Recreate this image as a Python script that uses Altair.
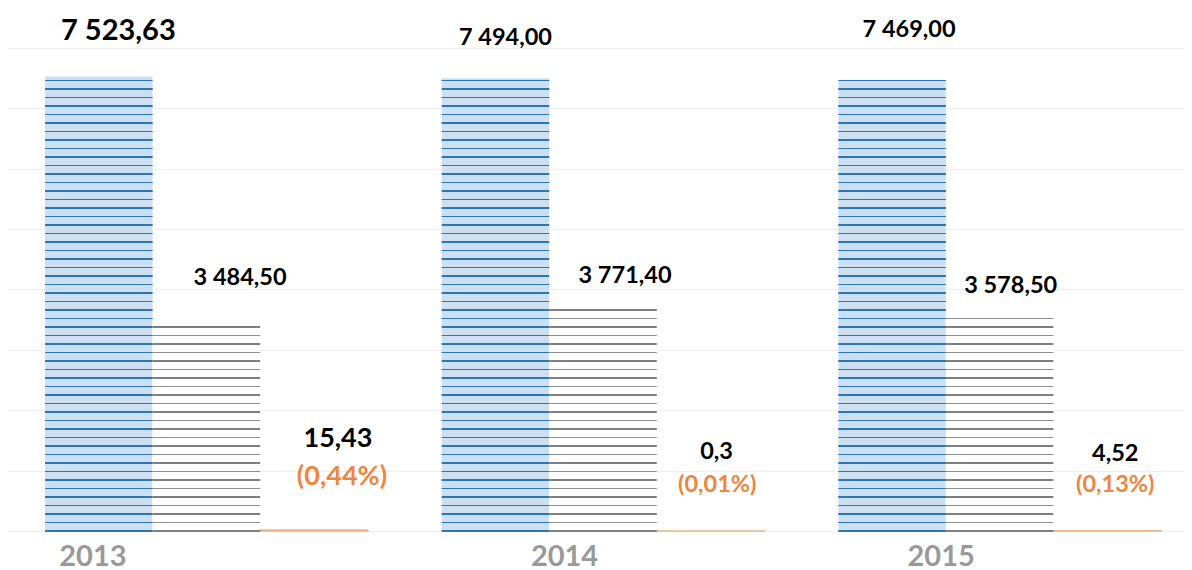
import altair as alt
import pandas as pd

# ---------------- data ----------------
years = ["2013", "2014", "2015"]
series = ["s1", "s2", "s3"]
values_s1 = [7523.63, 7494.00, 7469.00]
values_s2 = [3484.50, 3771.40, 3578.50]
values_s3 = [15.43, 0.3, 4.52]
labels_s1 = ["7 523,63", "7 494,00", "7 469,00"]
labels_s2 = ["3 484,50", "3 771,40", "3 578,50"]
labels_s3 = ["15,43", "0,3", "4,52"]
share_s3 = ["(0,44%)", "(0,01%)", "(0,13%)"]
grid_values = [0, 1000, 2000, 3000, 4000, 5000, 6000, 7000, 8000]

# ---------------- layout ----------------
W, H = 1176, 523
Y_MAX = 8659
PAD_IN, PAD_OUT, ALIGN = 0.1864, 0.0757, 0.617
step = W / (len(years) - PAD_IN + 2 * PAD_OUT)
sub_band = step * (1 - PAD_IN) / len(series)
HATCH_PX = 8.5
hatch_step = HATCH_PX * Y_MAX / H

BLUE_FILL = "#CDE0F2"
BLUE_LINE = "#2E75B6"
GRAY_LINE = "#7F7F7F"
GRAY_THIN = "#8E8E8E"
ORANGE_BAR = "#F4B183"
ORANGE_TXT = "#EE8540"
FONT = "Lato"

rows = []
for i, yr in enumerate(years):
    for s, vals, labs in (("s1", values_s1, labels_s1),
                          ("s2", values_s2, labels_s2),
                          ("s3", values_s3, labels_s3)):
        rows.append(dict(year=yr, series=s, value=vals[i], label=labs[i],
                         share=share_s3[i] if s == "s3" else ""))
bars = pd.DataFrame(rows)

hrows = []
for r in rows:
    if r["series"] == "s3":
        continue
    k = 0
    while k * hatch_step <= r["value"]:
        hrows.append(dict(year=r["year"], series=r["series"], hy=k * hatch_step,
                          thick=(k % 2 == 0)))
        k += 1
hatch = pd.DataFrame(hrows)

x_axis = alt.Axis(
    title=None, domain=False, ticks=False, tickSize=0, grid=False,
    labelAngle=0, labelFont=FONT, labelFontWeight="bold", labelFontSize=29,
    labelColor="#999999", labelBaseline="alphabetic", labelPadding=34,
    labelOffset={"condition": [
        {"test": "datum.value == '2013'", "value": -113.5},
        {"test": "datum.value == '2014'", "value": -38.5}],
        "value": -58.5},
)
y_axis = alt.Axis(
    title=None, values=grid_values, labels=False, ticks=False, domain=False,
    grid=True, gridColor="#EEEEEE", gridWidth=1,
)
X = alt.X("year:N", scale=alt.Scale(domain=years, paddingInner=PAD_IN,
                                    paddingOuter=PAD_OUT, align=ALIGN), axis=x_axis)
XO = alt.XOffset("series:N", scale=alt.Scale(domain=series, paddingInner=0, paddingOuter=0))
YS = alt.Scale(domain=[0, Y_MAX], nice=False, zero=True)


def yenc(field):
    return alt.Y(f"{field}:Q", scale=YS, axis=y_axis)


base = alt.Chart(bars)

layers = []
layers.append(base.transform_filter("datum.series == 's1'")
              .mark_bar(color=BLUE_FILL).encode(x=X, xOffset=XO, y=yenc("value")))
layers.append(base.transform_filter("datum.series == 's2'")
              .mark_bar(color="white").encode(x=X, xOffset=XO, y=yenc("value")))
layers.append(base.transform_filter("datum.series == 's3'")
              .mark_bar(color=ORANGE_BAR, stroke=ORANGE_BAR, strokeWidth=1.6)
              .encode(x=X, xOffset=XO, y=yenc("value")))

hbase = alt.Chart(hatch)
for s, thick_c, thin_c in (("s1", BLUE_LINE, BLUE_LINE), ("s2", GRAY_LINE, GRAY_THIN)):
    layers.append(hbase.transform_filter(f"datum.series == '{s}' && datum.thick")
                  .mark_tick(size=sub_band, thickness=2.2, color=thick_c, opacity=1)
                  .encode(x=X, xOffset=XO, y=yenc("hy")))
    layers.append(hbase.transform_filter(f"datum.series == '{s}' && !datum.thick")
                  .mark_tick(size=sub_band, thickness=1.2, color=thin_c, opacity=1)
                  .encode(x=X, xOffset=XO, y=yenc("hy")))

# label nudges: (dx, dy, fontSize)
nudge = {
    ("2013", "s1"): (19.5, -36.6, 29),
    ("2014", "s1"): (10, -33.4, 23.5),
    ("2015", "s1"): (17, -43, 23.5),
    ("2013", "s2"): (33.7, -35.5, 23.5),
    ("2014", "s2"): (22, -20, 23.5),
    ("2015", "s2"): (11, -22, 23.5),
    ("2013", "s3"): (24, -83, 27),
    ("2014", "s3"): (6, -71.7, 23.5),
    ("2015", "s3"): (8, -70, 23.5),
}
share_nudge = {
    "2013": (28, -44.7, 27),
    "2014": (6.7, -39, 23.5),
    "2015": (8, -38.7, 23.5),
}

for (yr, s), (dx, dy, fs) in nudge.items():
    layers.append(base.transform_filter(f"datum.year == '{yr}' && datum.series == '{s}'")
                  .mark_text(dx=dx, dy=dy, fontSize=fs, font=FONT, fontWeight="bold",
                             color="#000000", baseline="alphabetic", align="center")
                  .encode(x=X, xOffset=XO, y=yenc("value"), text="label:N"))
for yr, (dx, dy, fs) in share_nudge.items():
    layers.append(base.transform_filter(f"datum.year == '{yr}' && datum.series == 's3'")
                  .mark_text(dx=dx, dy=dy, fontSize=fs, font=FONT, fontWeight="bold",
                             color=ORANGE_TXT, baseline="alphabetic", align="center")
                  .encode(x=X, xOffset=XO, y=yenc("value"), text="share:N"))

chart = (
    alt.layer(*layers)
    .properties(width=W, height=H,
                autosize=alt.AutoSizeParams(type="none"),
                padding={"left": 0, "top": 0, "right": 0, "bottom": 40},
                background="white")
    .configure_view(stroke=None)
)

chart.save("out.html", embed_options={"renderer": "svg", "actions": False})
